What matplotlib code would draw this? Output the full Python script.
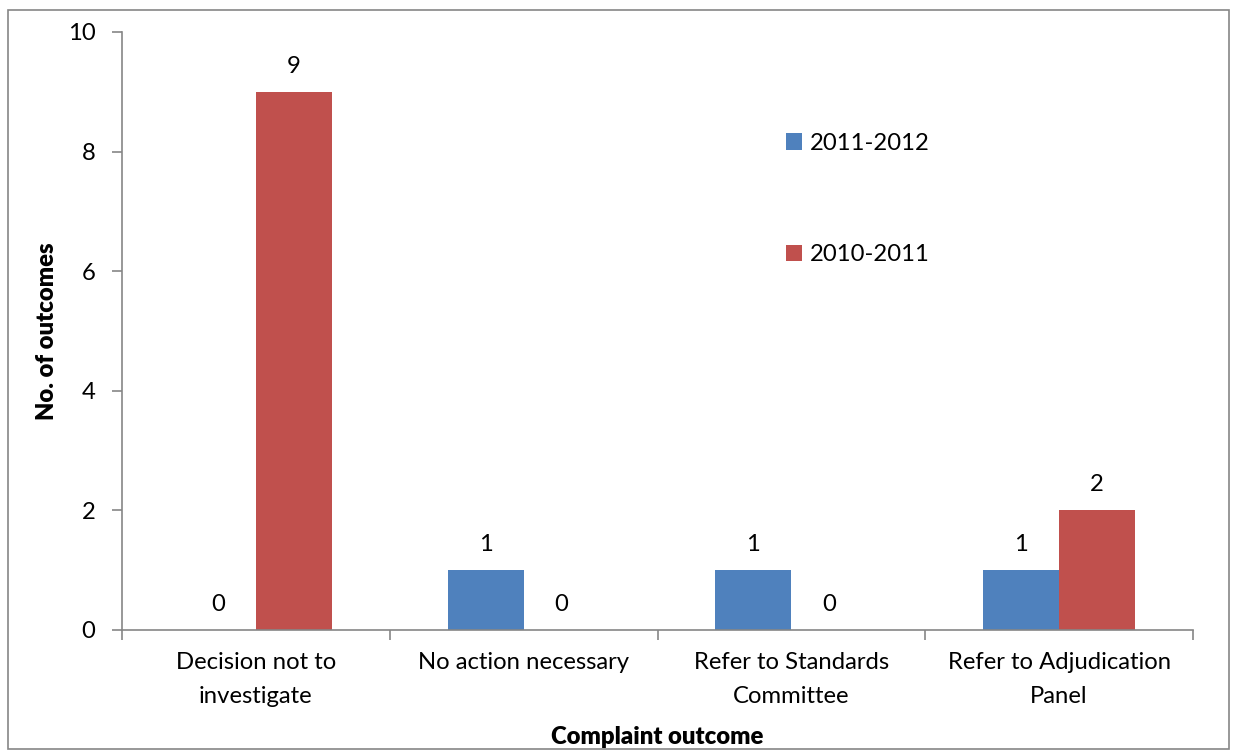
import matplotlib.pyplot as plt
import numpy as np
from matplotlib.patches import Rectangle

plt.rcParams["font.family"] = ["Lato", "DejaVu Sans"]

categories = ["Decision not to\ninvestigate", "No action necessary",
              "Refer to Standards\nCommittee", "Refer to Adjudication\nPanel"]
series_names = ["2011-2012", "2010-2011"]
values_2011_2012 = [0, 1, 1, 1]
values_2010_2011 = [9, 0, 0, 2]

BLUE = "#4F81BD"
RED = "#C0504D"
AXIS_GRAY = "#868686"

fig = plt.figure(figsize=(12.33, 7.51), dpi=100)
ax = fig.add_axes([122 / 1233, 1 - 630 / 751, (1193 - 122) / 1233, (630 - 32) / 751])

# outer chart border
fig.patches.append(Rectangle((8 / 1233, 0.002), 1 - 8 / 1233 - 0.003, 1 - 10 / 751 - 0.002,
                             transform=fig.transFigure, fill=False,
                             edgecolor=AXIS_GRAY, linewidth=1.2))

x = np.arange(len(categories))
w = 0.284
b1 = ax.bar(x - w / 2, values_2011_2012, w, color=BLUE, label=series_names[0])
b2 = ax.bar(x + w / 2, values_2010_2011, w, color=RED, label=series_names[1])
fs = 17.2
ax.bar_label(b1, padding=11, fontsize=fs)
ax.bar_label(b2, padding=11, fontsize=fs)

ax.set_xlim(-0.5, len(categories) - 0.5)
ax.set_ylim(0, 10)
ax.set_yticks(range(0, 11, 2))
ax.set_xticks(x)
ax.set_xticklabels(categories, fontsize=fs, linespacing=1.75)
ax.set_xticks(np.arange(-0.5, len(categories), 1), minor=True)
ax.tick_params(axis="x", which="major", length=0, pad=16)
ax.tick_params(axis="x", which="minor", length=7, color=AXIS_GRAY, width=1.2)
ax.tick_params(axis="y", length=7, color=AXIS_GRAY, width=1.2, labelsize=fs, pad=12)

for s in ["top", "right"]:
    ax.spines[s].set_visible(False)
for s in ["left", "bottom"]:
    ax.spines[s].set_color(AXIS_GRAY)
    ax.spines[s].set_linewidth(1.2)

ax.set_xlabel("Complaint outcome", fontsize=fs, fontweight="heavy", labelpad=14)
ax.set_ylabel("No. of outcomes", fontsize=fs, fontweight="heavy", labelpad=7)

ax.legend(loc="upper left", bbox_to_anchor=(0.6, 0.867), frameon=False, fontsize=fs,
          handlelength=0.68, handleheight=0.68, handletextpad=0.3, labelspacing=3.78)

fig.savefig("out.png", dpi=100)
